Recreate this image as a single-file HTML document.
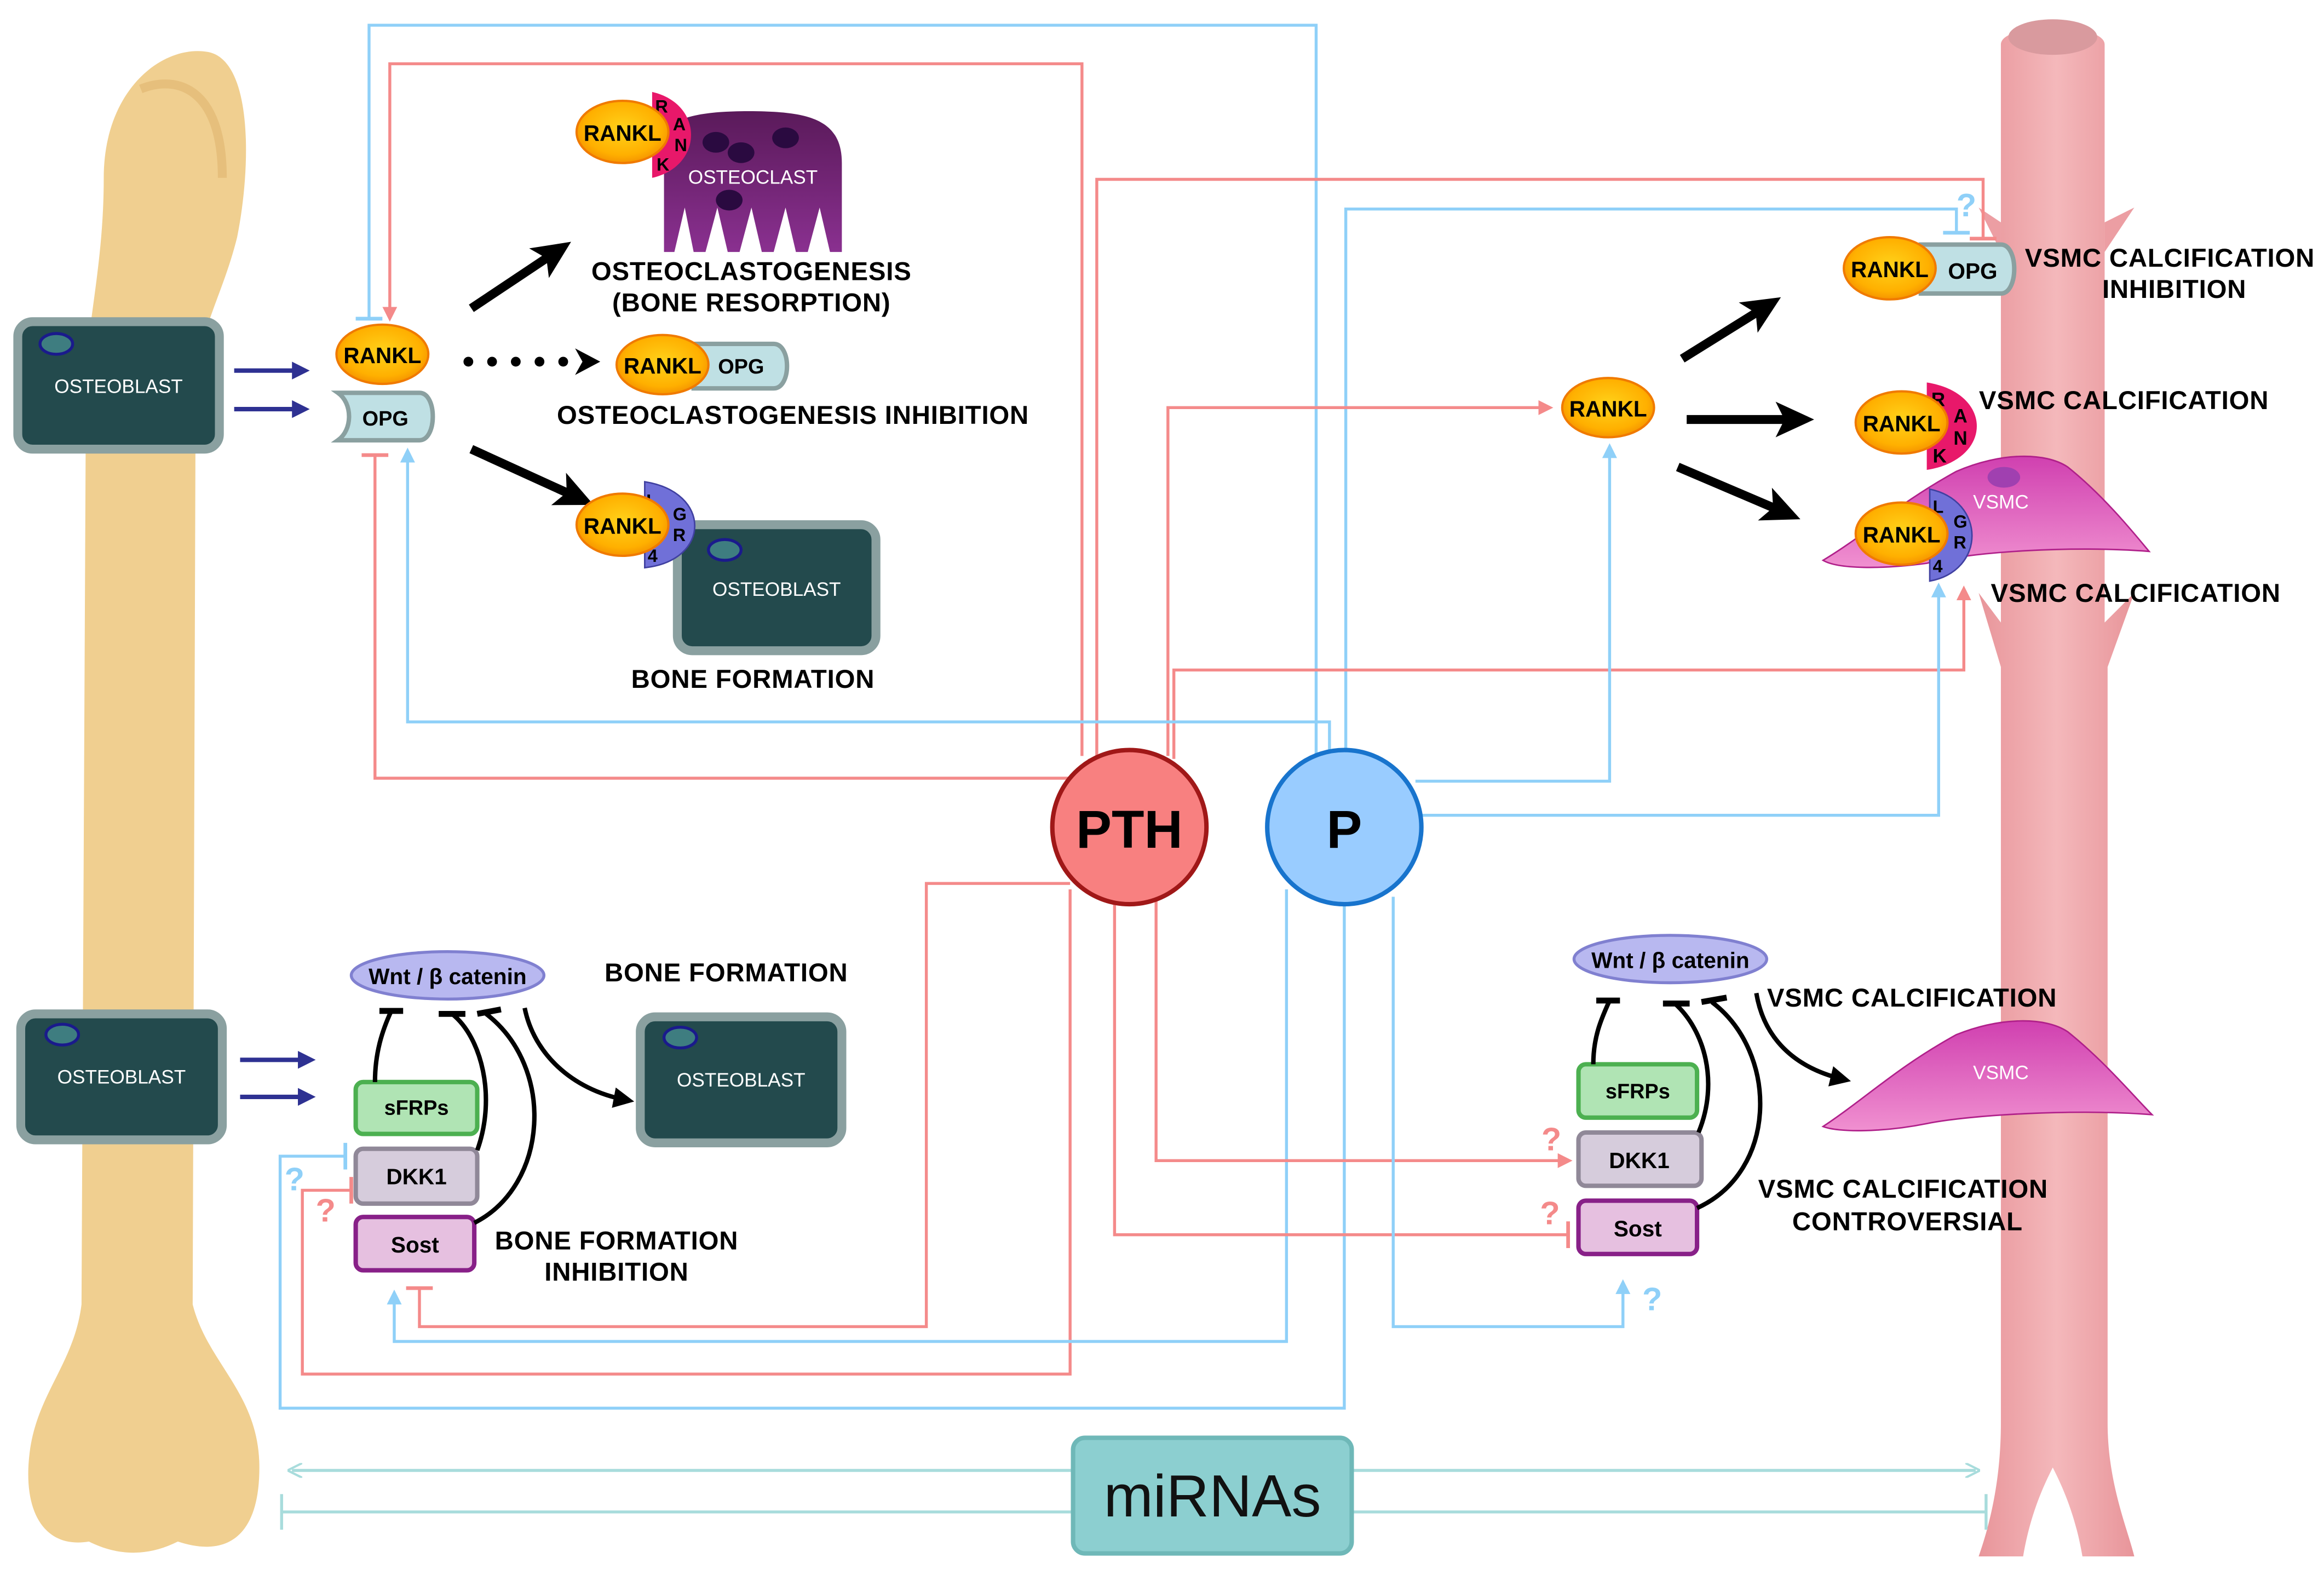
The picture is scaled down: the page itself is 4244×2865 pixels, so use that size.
<!DOCTYPE html>
<html><head><meta charset="utf-8"><style>html,body{margin:0;padding:0;background:#fff}svg{display:block}</style></head>
<body>
<svg xmlns="http://www.w3.org/2000/svg" width="4244" height="2865" viewBox="0 0 1568 1058.5" font-family="Liberation Sans, Arial, sans-serif">
<defs>
<radialGradient id="org" cx="0.5" cy="0.45" r="0.6"><stop offset="0" stop-color="#ffd21a"/><stop offset="0.7" stop-color="#ffb000"/><stop offset="1" stop-color="#f28a00"/></radialGradient>
<linearGradient id="ves" x1="0" x2="1"><stop offset="0" stop-color="#e8959a"/><stop offset="0.5" stop-color="#f4b8bb"/><stop offset="1" stop-color="#e8959a"/></linearGradient>
<linearGradient id="vsmc" x1="0" y1="0" x2="0" y2="1"><stop offset="0" stop-color="#d040b0"/><stop offset="1" stop-color="#f090d0"/></linearGradient>
<linearGradient id="ocl" x1="0" y1="0" x2="0" y2="1"><stop offset="0" stop-color="#5a1a5a"/><stop offset="1" stop-color="#8a3090"/></linearGradient>
<marker id="ab" markerWidth="10" markerHeight="10" refX="7" refY="5" orient="auto" markerUnits="userSpaceOnUse"><path d="M0,0 L10,5 L0,10 z" fill="#8fd0f8"/></marker>
<marker id="ap" markerWidth="10" markerHeight="10" refX="7" refY="5" orient="auto" markerUnits="userSpaceOnUse"><path d="M0,0 L10,5 L0,10 z" fill="#f48a8a"/></marker>
<marker id="at" markerWidth="10" markerHeight="10" refX="7" refY="5" orient="auto" markerUnits="userSpaceOnUse"><path d="M0,0 L10,5 L0,10" fill="none" stroke="#a8dcdc" stroke-width="1.5"/></marker>
<marker id="ak" markerWidth="26" markerHeight="24" refX="10" refY="12" orient="auto" markerUnits="userSpaceOnUse"><path d="M0,0 L26,12 L0,24 L6,12 z" fill="#000"/></marker>
<marker id="ak2" markerWidth="14" markerHeight="14" refX="8" refY="7" orient="auto" markerUnits="userSpaceOnUse"><path d="M0,0 L14,7 L0,14 z" fill="#000"/></marker>
<marker id="an" markerWidth="12" markerHeight="12" refX="8" refY="6" orient="auto" markerUnits="userSpaceOnUse"><path d="M0,0 L12,6 L0,12 z" fill="#2e3192"/></marker>
</defs>
<rect width="1568" height="1058.5" fill="#fff"/>

<!-- Bone -->
<g fill="#f0cf90">
<path d="M70,120 C70,60 110,30 140,35 C170,40 170,110 160,160 C150,200 135,220 132,260 L130,880 C140,920 175,940 175,990 C175,1040 150,1050 120,1040 C100,1050 80,1050 60,1040 C30,1045 15,1020 20,980 C25,940 50,920 55,880 L58,260 C58,220 70,180 70,120 Z"/>
</g>
<path d="M95,60 C120,50 150,60 150,120" stroke="#e6bf7c" stroke-width="6" fill="none"/>

<!-- Vessel -->
<path d="M1350,30 C1350,15 1420,15 1420,30 L1420,420 L1440,400 L1422,450 L1422,960 C1422,1000 1435,1030 1440,1050 L1405,1050 C1400,1020 1390,1000 1385,990 C1380,1000 1370,1020 1365,1050 L1335,1050 C1342,1030 1350,1000 1350,960 L1350,450 L1335,400 L1350,420 Z" fill="url(#ves)"/>
<path d="M1350,150 L1335,140 L1350,170 Z M1420,150 L1440,140 L1420,170 Z" fill="#ec9ea3"/>
<ellipse cx="1385" cy="25" rx="30" ry="12" fill="#d99a9e"/>

<!-- connector lines -->
<g fill="none" stroke-width="2">
<path d="M888,510 L888,17 L249,17 L249,215" stroke="#8fd0f8"/>
<path d="M240,215 L258,215" stroke="#8fd0f8" stroke-width="2.5"/>
<path d="M730,510 L730,43 L263,43 L263,214" stroke="#f48a8a" marker-end="url(#ap)"/>
<path d="M740,510 L740,121 L1338,121 L1338,160" stroke="#f48a8a"/>
<path d="M1329,161 L1347,161" stroke="#f48a8a" stroke-width="2.5"/>
<path d="M908,508 L908,141 L1320,141 L1320,156" stroke="#8fd0f8"/>
<path d="M1311,157 L1329,157" stroke="#8fd0f8" stroke-width="2.5"/>
<path d="M788,510 L788,275 L1045,275" stroke="#f48a8a" marker-end="url(#ap)"/>
<path d="M792,512 L792,452 L1325,452 L1325,398" stroke="#f48a8a" marker-end="url(#ap)"/>
<path d="M897,508 L897,487 L275,487 L275,305" stroke="#8fd0f8" marker-end="url(#ab)"/>
<path d="M735,512 L735,525 L253,525 L253,307" stroke="#f48a8a"/>
<path d="M244,307 L262,307" stroke="#f48a8a" stroke-width="2.5"/>
<path d="M955,527 L1086,527 L1086,302" stroke="#8fd0f8" marker-end="url(#ab)"/>
<path d="M958,550 L1308,550 L1308,396" stroke="#8fd0f8" marker-end="url(#ab)"/>

<path d="M722,596 L625,596 L625,895 L283,895 L283,870" stroke="#f48a8a"/>
<path d="M274,869 L292,869" stroke="#f48a8a" stroke-width="2.5"/>
<path d="M722,600 L722,927 L204,927 L204,803 L236,803" stroke="#f48a8a"/>
<path d="M237,794 L237,812" stroke="#f48a8a" stroke-width="2.5"/>
<path d="M868,600 L868,905 L266,905 L266,873" stroke="#8fd0f8" marker-end="url(#ab)"/>
<path d="M907,610 L907,950 L189,950 L189,780 L232,780" stroke="#8fd0f8"/>
<path d="M233,771 L233,789" stroke="#8fd0f8" stroke-width="2.5"/>
<path d="M780,605 L780,783 L1058,783" stroke="#f48a8a" marker-end="url(#ap)"/>
<path d="M752,605 L752,833 L1057,833" stroke="#f48a8a"/>
<path d="M1058,824 L1058,842" stroke="#f48a8a" stroke-width="2.5"/>
<path d="M940,605 L940,895 L1095,895 L1095,866" stroke="#8fd0f8" marker-end="url(#ab)"/>

<path d="M723,992 L197,992" stroke="#a8dcdc" marker-end="url(#at)"/>
<path d="M913,992 L1333,992" stroke="#a8dcdc" marker-end="url(#at)"/>
<path d="M190,1020 L1340,1020" stroke="#a8dcdc"/>
<path d="M190,1008 L190,1032 M1340,1008 L1340,1032" stroke="#a8dcdc"/>
</g>

<g font-size="22" font-weight="bold">
<text x="1320" y="146" fill="#8fd0f8">?</text>
<text x="192" y="803" fill="#8fd0f8">?</text>
<text x="213" y="824" fill="#f48a8a">?</text>
<text x="1040" y="776" fill="#f48a8a">?</text>
<text x="1039" y="826" fill="#f48a8a">?</text>
<text x="1108" y="884" fill="#8fd0f8">?</text>
</g>

<g>
<rect x="12" y="217" width="136" height="86" rx="10" fill="#234a4d" stroke="#8aa0a0" stroke-width="6"/>
<ellipse cx="38" cy="232" rx="11" ry="7" fill="#3e7d80" stroke="#1a1a8c" stroke-width="2"/>
<text x="80" y="265" fill="#fff" font-size="13" text-anchor="middle">OSTEOBLAST</text>
<rect x="457" y="354" width="134" height="85" rx="10" fill="#234a4d" stroke="#8aa0a0" stroke-width="6"/>
<ellipse cx="489" cy="371" rx="11" ry="7" fill="#3e7d80" stroke="#1a1a8c" stroke-width="2"/>
<text x="524" y="402" fill="#fff" font-size="13" text-anchor="middle">OSTEOBLAST</text>
<rect x="14" y="684" width="136" height="85" rx="10" fill="#234a4d" stroke="#8aa0a0" stroke-width="6"/>
<ellipse cx="42" cy="698" rx="11" ry="7" fill="#3e7d80" stroke="#1a1a8c" stroke-width="2"/>
<text x="82" y="731" fill="#fff" font-size="13" text-anchor="middle">OSTEOBLAST</text>
<rect x="432" y="686" width="136" height="85" rx="10" fill="#234a4d" stroke="#8aa0a0" stroke-width="6"/>
<ellipse cx="459" cy="700" rx="11" ry="7" fill="#3e7d80" stroke="#1a1a8c" stroke-width="2"/>
<text x="500" y="733" fill="#fff" font-size="13" text-anchor="middle">OSTEOBLAST</text>
</g>

<g stroke="#2e3192" stroke-width="3" fill="none">
<path d="M158,250 L205,250" marker-end="url(#an)"/>
<path d="M158,276 L205,276" marker-end="url(#an)"/>
<path d="M162,715 L209,715" marker-end="url(#an)"/>
<path d="M162,740 L209,740" marker-end="url(#an)"/>
</g>

<g stroke="#000" stroke-width="6" fill="none">
<path d="M318,208 L372,172" marker-end="url(#ak)"/>
<path d="M318,303 L386,334" marker-end="url(#ak)"/>
<path d="M1135,242 L1188,209" marker-end="url(#ak)"/>
<path d="M1138,283 L1208,283" marker-end="url(#ak)"/>
<path d="M1132,315 L1200,344" marker-end="url(#ak)"/>
</g>
<g fill="#000"><circle cx="316" cy="244" r="3.3"/><circle cx="332" cy="244" r="3.3"/><circle cx="348" cy="244" r="3.3"/><circle cx="364" cy="244" r="3.3"/><circle cx="380" cy="244" r="3.3"/><path d="M388,235 L405,244 L388,253 L393,244 z"/></g>

<path d="M448,95 C448,80 470,75 505,75 C545,75 568,80 568,110 L568,170 L560,170 L553,140 L545,170 L537,170 L530,140 L522,170 L514,170 L507,140 L499,170 L491,170 L484,140 L476,170 L468,170 L462,140 L455,170 L448,170 Z" fill="url(#ocl)"/>
<g fill="#2a0a40"><ellipse cx="483" cy="96" rx="9" ry="7"/><ellipse cx="500" cy="103" rx="9" ry="7"/><ellipse cx="530" cy="93" rx="9" ry="7"/><ellipse cx="492" cy="135" rx="9" ry="7"/></g>
<text x="508" y="124" fill="#fff" font-size="13" text-anchor="middle">OSTEOCLAST</text>
<path d="M440,62 C475,70 475,112 440,120 Z" fill="#e8186a"/>
<g font-size="12" font-weight="bold"><text x="442" y="76">R</text><text x="454" y="88">A</text><text x="455" y="102">N</text><text x="443" y="115">K</text></g>

<g stroke="#f07a00" stroke-width="1.5" fill="url(#org)">
<ellipse cx="420" cy="89" rx="31" ry="21"/>
<ellipse cx="258" cy="239" rx="31" ry="20"/>
<ellipse cx="1085" cy="275" rx="31" ry="20"/>
</g>
<path d="M228,265 L283,265 C295,265 295,297 283,297 L228,297 C238,290 238,272 228,265 Z" fill="#bfe0e4" stroke="#8aa0a0" stroke-width="3"/>
<text x="260" y="287" font-size="14" font-weight="bold" text-anchor="middle">OPG</text>
<path d="M468,232 L522,232 C534,232 534,262 522,262 L468,262 Z" fill="#bfe0e4" stroke="#8aa0a0" stroke-width="3"/>
<text x="500" y="252" font-size="14" font-weight="bold" text-anchor="middle">OPG</text>
<ellipse cx="447" cy="246" rx="31" ry="20" fill="url(#org)" stroke="#f07a00" stroke-width="1.5"/>
<path d="M1296,165 L1350,165 C1362,165 1362,198 1350,198 L1296,198 Z" fill="#bfe0e4" stroke="#8aa0a0" stroke-width="3"/>
<text x="1331" y="188" font-size="15" font-weight="bold" text-anchor="middle">OPG</text>
<ellipse cx="1275" cy="181" rx="31" ry="21" fill="url(#org)" stroke="#f07a00" stroke-width="1.5"/>
<path d="M435,325 C480,332 480,378 435,383 Z" fill="#7070d8" stroke="#4040a0" stroke-width="1"/>
<g font-size="12" font-weight="bold"><text x="436" y="342">L</text><text x="454" y="351">G</text><text x="454" y="365">R</text><text x="437" y="379">4</text></g>
<ellipse cx="420" cy="354" rx="31" ry="21" fill="url(#org)" stroke="#f07a00" stroke-width="1.5"/>
<path d="M1300,258 C1345,265 1345,310 1300,317 Z" fill="#e8186a"/>
<g font-size="13" font-weight="bold"><text x="1303" y="274">R</text><text x="1318" y="285">A</text><text x="1318" y="300">N</text><text x="1304" y="312">K</text></g>
<ellipse cx="1283" cy="285" rx="31" ry="21" fill="url(#org)" stroke="#f07a00" stroke-width="1.5"/>
<path d="M1230,378 C1260,360 1280,340 1320,318 C1350,305 1380,305 1395,315 C1420,335 1440,360 1450,372 C1400,368 1330,372 1300,380 C1270,384 1240,384 1230,378 Z" fill="url(#vsmc)" stroke="#b0208a" stroke-width="1"/>
<ellipse cx="1352" cy="322" rx="11" ry="7" fill="#a040b0"/>
<text x="1350" y="343" fill="#fff" font-size="13" text-anchor="middle">VSMC</text>
<path d="M1302,330 C1340,338 1340,385 1302,392 Z" fill="#7070d8" stroke="#4040a0"/>
<g font-size="12" font-weight="bold"><text x="1304" y="346">L</text><text x="1318" y="356">G</text><text x="1318" y="370">R</text><text x="1304" y="386">4</text></g>
<ellipse cx="1283" cy="360" rx="31" ry="21" fill="url(#org)" stroke="#f07a00" stroke-width="1.5"/>
<path d="M1230,760 C1260,740 1280,720 1320,698 C1350,686 1380,686 1395,696 C1420,716 1440,740 1452,752 C1400,748 1330,752 1300,758 C1270,764 1240,764 1230,760 Z" fill="url(#vsmc)" stroke="#b0208a" stroke-width="1"/>
<text x="1350" y="728" fill="#fff" font-size="13" text-anchor="middle">VSMC</text>

<g font-size="15" font-weight="bold" text-anchor="middle">
<text x="420" y="95">RANKL</text><text x="258" y="245">RANKL</text><text x="447" y="252">RANKL</text>
<text x="420" y="360">RANKL</text><text x="1085" y="281">RANKL</text><text x="1275" y="187">RANKL</text>
<text x="1283" y="291">RANKL</text><text x="1283" y="366">RANKL</text>
</g>

<ellipse cx="302" cy="658" rx="65" ry="16" fill="#b8b8f0" stroke="#8080d0" stroke-width="2"/>
<text x="302" y="664" font-size="15" font-weight="bold" text-anchor="middle">Wnt / β catenin</text>
<rect x="240" y="730" width="82" height="35" rx="5" fill="#b0e4b4" stroke="#4cb050" stroke-width="3"/>
<text x="281" y="752" font-size="14" font-weight="bold" text-anchor="middle">sFRPs</text>
<rect x="240" y="775" width="82" height="37" rx="5" fill="#d6ccdc" stroke="#908898" stroke-width="3"/>
<text x="281" y="799" font-size="15" font-weight="bold" text-anchor="middle">DKK1</text>
<rect x="240" y="821" width="80" height="36" rx="5" fill="#e6c0e0" stroke="#882088" stroke-width="3"/>
<text x="280" y="845" font-size="15" font-weight="bold" text-anchor="middle">Sost</text>
<g stroke="#000" stroke-width="3" fill="none">
<path d="M253,730 C253,710 258,695 264,682"/><path d="M256,682 L272,682" stroke-width="4"/>
<path d="M322,776 C335,740 325,700 305,684"/><path d="M296,684 L314,684" stroke-width="4"/>
<path d="M320,825 C370,800 375,720 328,684"/><path d="M322,684 L338,681" stroke-width="4"/>
<path d="M354,680 C360,710 385,735 422,742" marker-end="url(#ak2)"/>
</g>
<ellipse cx="1127" cy="647" rx="65" ry="16" fill="#b8b8f0" stroke="#8080d0" stroke-width="2"/>
<text x="1127" y="653" font-size="15" font-weight="bold" text-anchor="middle">Wnt / β catenin</text>
<rect x="1065" y="718" width="80" height="36" rx="5" fill="#b0e4b4" stroke="#4cb050" stroke-width="3"/>
<text x="1105" y="741" font-size="14" font-weight="bold" text-anchor="middle">sFRPs</text>
<rect x="1065" y="764" width="83" height="36" rx="5" fill="#d6ccdc" stroke="#908898" stroke-width="3"/>
<text x="1106" y="788" font-size="15" font-weight="bold" text-anchor="middle">DKK1</text>
<rect x="1065" y="810" width="80" height="36" rx="5" fill="#e6c0e0" stroke="#882088" stroke-width="3"/>
<text x="1105" y="834" font-size="15" font-weight="bold" text-anchor="middle">Sost</text>
<g stroke="#000" stroke-width="3" fill="none">
<path d="M1075,718 C1075,700 1080,688 1086,675"/><path d="M1077,675 L1093,675" stroke-width="4"/>
<path d="M1146,764 C1160,730 1150,695 1130,677"/><path d="M1122,677 L1140,677" stroke-width="4"/>
<path d="M1145,815 C1200,790 1200,710 1155,676"/><path d="M1148,676 L1165,673" stroke-width="4"/>
<path d="M1185,670 C1190,700 1210,720 1243,728" marker-end="url(#ak2)"/>
</g>

<circle cx="762" cy="558" r="52" fill="#f88080" stroke="#a01818" stroke-width="3"/>
<text x="762" y="572" font-size="36" font-weight="bold" text-anchor="middle">PTH</text>
<circle cx="907" cy="558" r="52" fill="#99ccff" stroke="#1874cd" stroke-width="3"/>
<text x="907" y="572" font-size="36" font-weight="bold" text-anchor="middle">P</text>

<rect x="724" y="970" width="188" height="78" rx="8" fill="#8ccfd0" stroke="#6fb8b8" stroke-width="3"/>
<text x="818" y="1023" font-size="40" text-anchor="middle" fill="#111">miRNAs</text>

<g font-size="17.5" font-weight="bold" text-anchor="middle" letter-spacing="0.3">
<text x="507" y="189">OSTEOCLASTOGENESIS</text>
<text x="507" y="210">(BONE RESORPTION)</text>
<text x="535" y="286">OSTEOCLASTOGENESIS INHIBITION</text>
<text x="508" y="464">BONE FORMATION</text>
<text x="490" y="662">BONE FORMATION</text>
<text x="416" y="843">BONE FORMATION</text>
<text x="416" y="864">INHIBITION</text>
<text x="1464" y="180">VSMC CALCIFICATION</text>
<text x="1467" y="201">INHIBITION</text>
<text x="1433" y="276">VSMC CALCIFICATION</text>
<text x="1441" y="406">VSMC CALCIFICATION</text>
<text x="1290" y="679">VSMC CALCIFICATION</text>
<text x="1284" y="808">VSMC CALCIFICATION</text>
<text x="1287" y="830">CONTROVERSIAL</text>
</g>
</svg>
</body></html>
